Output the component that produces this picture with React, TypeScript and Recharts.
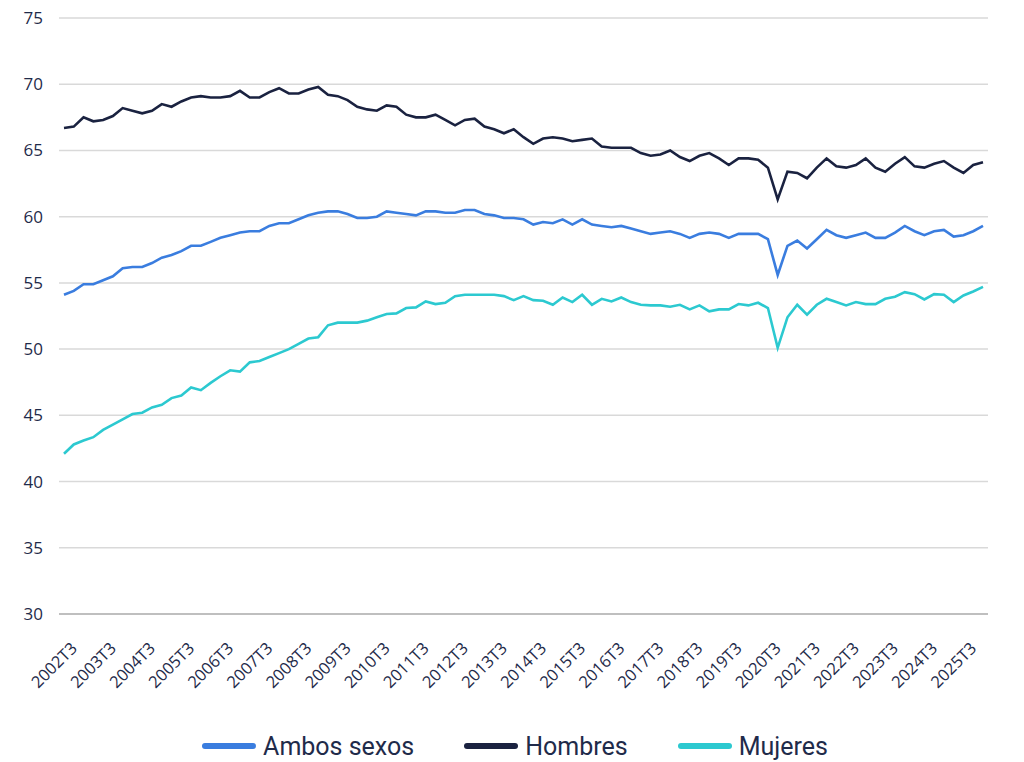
import React from 'react'
import { LineChart, Line, XAxis, YAxis, CartesianGrid, Legend } from 'recharts'

// quarters 2002T2 .. 2025T4
const FIRST_YEAR = 2002
const LAST_YEAR = 2025
const QUARTERS = ['T1', 'T2', 'T3', 'T4']

const periods: string[] = []
for (let y = FIRST_YEAR; y <= LAST_YEAR; y++) {
  for (const q of QUARTERS) {
    if (y === FIRST_YEAR && q === 'T1') continue
    periods.push(`${y}${q}`)
  }
}

const xTicks = periods.filter((p) => p.endsWith('T3'))
const yTicks = [30, 35, 40, 45, 50, 55, 60, 65, 70, 75]

const ambos = [
  54.1, 54.4, 54.9, 54.9, 55.2, 55.5, 56.1, 56.2, 56.2, 56.5,
  56.9, 57.1, 57.4, 57.8, 57.8, 58.1, 58.4, 58.6, 58.8, 58.9,
  58.9, 59.3, 59.5, 59.5, 59.8, 60.1, 60.3, 60.4, 60.4, 60.2,
  59.9, 59.9, 60.0, 60.4, 60.3, 60.2, 60.1, 60.4, 60.4, 60.3,
  60.3, 60.5, 60.5, 60.2, 60.1, 59.9, 59.9, 59.8, 59.4, 59.6,
  59.5, 59.8, 59.4, 59.8, 59.4, 59.3, 59.2, 59.3, 59.1, 58.9,
  58.7, 58.8, 58.9, 58.7, 58.4, 58.7, 58.8, 58.7, 58.4, 58.7,
  58.7, 58.7, 58.3, 55.6, 57.8, 58.2, 57.6, 58.3, 59.0, 58.6,
  58.4, 58.6, 58.8, 58.4, 58.4, 58.8, 59.3, 58.9, 58.6, 58.9,
  59.0, 58.5, 58.6, 58.9, 59.3,
]

const hombres = [
  66.7, 66.8, 67.5, 67.2, 67.3, 67.6, 68.2, 68.0, 67.8, 68.0,
  68.5, 68.3, 68.7, 69.0, 69.1, 69.0, 69.0, 69.1, 69.5, 69.0,
  69.0, 69.4, 69.7, 69.3, 69.3, 69.6, 69.8, 69.2, 69.1, 68.8,
  68.3, 68.1, 68.0, 68.4, 68.3, 67.7, 67.5, 67.5, 67.7, 67.3,
  66.9, 67.3, 67.4, 66.8, 66.6, 66.3, 66.6, 66.0, 65.5, 65.9,
  66.0, 65.9, 65.7, 65.8, 65.9, 65.3, 65.2, 65.2, 65.2, 64.8,
  64.6, 64.7, 65.0, 64.5, 64.2, 64.6, 64.8, 64.4, 63.9, 64.4,
  64.4, 64.3, 63.7, 61.3, 63.4, 63.3, 62.9, 63.7, 64.4, 63.8,
  63.7, 63.9, 64.4, 63.7, 63.4, 64.0, 64.5, 63.8, 63.7, 64.0,
  64.2, 63.7, 63.3, 63.9, 64.1,
]

const mujeres = [
  42.1, 42.8, 43.1, 43.35, 43.9, 44.3, 44.7, 45.1, 45.2, 45.6,
  45.8, 46.3, 46.5, 47.1, 46.9, 47.45, 47.95, 48.4, 48.3, 49.0,
  49.1, 49.4, 49.7, 50.0, 50.4, 50.8, 50.9, 51.8, 52.0, 52.0,
  52.0, 52.15, 52.4, 52.65, 52.7, 53.1, 53.15, 53.6, 53.4, 53.5,
  54.0, 54.1, 54.1, 54.1, 54.1, 54.0, 53.7, 54.0, 53.7, 53.65,
  53.35, 53.9, 53.55, 54.1, 53.35, 53.8, 53.6, 53.9, 53.55, 53.35,
  53.3, 53.3, 53.2, 53.35, 53.0, 53.3, 52.85, 53.0, 53.0, 53.4,
  53.3, 53.5, 53.1, 50.1, 52.4, 53.35, 52.6, 53.35, 53.8, 53.55,
  53.3, 53.55, 53.4, 53.4, 53.8, 53.95, 54.3, 54.15, 53.75, 54.15,
  54.1, 53.55, 54.05, 54.35, 54.7,
]

const SERIES = [
  { key: 'ambos', name: 'Ambos sexos', color: '#3a7ddf' },
  { key: 'hombres', name: 'Hombres', color: '#1a2240' },
  { key: 'mujeres', name: 'Mujeres', color: '#2cc9d0' },
]

const data = periods.map((period, i) => ({
  period,
  ambos: ambos[i],
  hombres: hombres[i],
  mujeres: mujeres[i],
}))

const TEXT_COLOR = '#1f2b4a'
const FONT = '"Open Sans", sans-serif'

// rotated quarter label, end of text sits next to the tick
const XTick = (props: any) => {
  const { x, y, payload } = props
  return (
    <g transform={`translate(${x - 4},${y + 7})`}>
      <text
        x={0}
        y={0}
        dy="0.71em"
        textAnchor="end"
        transform="rotate(-45)"
        fill={TEXT_COLOR}
        fontSize={16.5}
        fontFamily={FONT}
      >
        {payload.value}
      </text>
    </g>
  )
}

const renderLegend = () => (
  <div
    style={{
      display: 'flex',
      justifyContent: 'center',
      alignItems: 'center',
      height: 32,
      gap: 50,
      paddingLeft: 6,
      fontFamily: 'Roboto, sans-serif',
      fontSize: 25,
      color: TEXT_COLOR,
    }}
  >
    {SERIES.map((s) => (
      <div key={s.key} style={{ display: 'flex', alignItems: 'center' }}>
        <span
          style={{
            display: 'inline-block',
            width: 54,
            height: 6,
            borderRadius: 3,
            background: s.color,
            marginRight: 7,
          }}
        />
        <span>{s.name}</span>
      </div>
    ))}
  </div>
)

export default function App() {
  return (
    <div style={{ position: 'absolute', left: 0, top: 0, width: 1024, height: 762, background: '#fff' }}>
      <LineChart
        width={1024}
        height={762}
        data={data}
        margin={{ top: 18, right: 36, left: 0, bottom: 0 }}
      >
        <CartesianGrid vertical={false} stroke="#d9d9d9" strokeWidth={1.5} />
        <XAxis
          dataKey="period"
          ticks={xTicks}
          interval={0}
          height={116}
          tickLine={false}
          tickMargin={14}
          padding={{ left: 5, right: 5 }}
          axisLine={{ stroke: '#bfbfbf', strokeWidth: 2 }}
          tick={<XTick />}
        />
        <YAxis
          width={59}
          domain={[30, 75]}
          ticks={yTicks}
          interval={0}
          axisLine={false}
          tickLine={false}
          tickMargin={10}
          tick={{ fill: TEXT_COLOR, fontSize: 17, fontFamily: FONT }}
        />
        <Legend
          verticalAlign="bottom"
          content={renderLegend}
          wrapperStyle={{ left: 0, width: 1024, bottom: 0 }}
        />
        {SERIES.map((s) => (
          <Line
            key={s.key}
            type="linear"
            dataKey={s.key}
            name={s.name}
            stroke={s.color}
            strokeWidth={2.6}
            dot={false}
            isAnimationActive={false}
          />
        ))}
      </LineChart>
    </div>
  )
}
